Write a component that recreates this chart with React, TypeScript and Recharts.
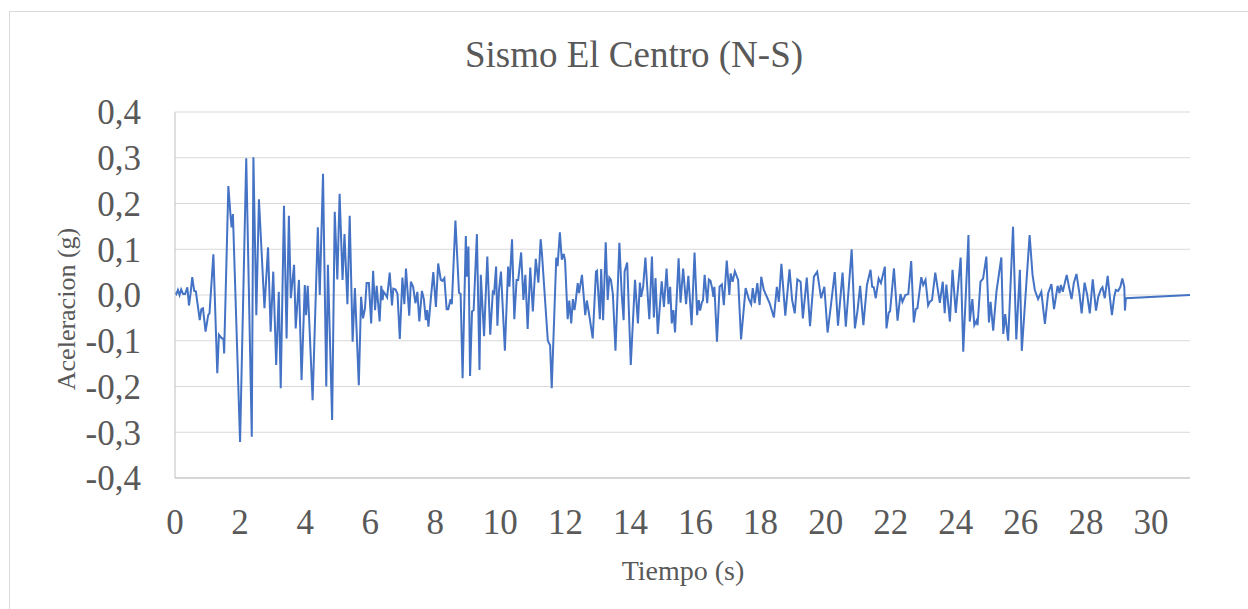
import React from 'react';
import { LineChart, Line, XAxis, YAxis, CartesianGrid } from 'recharts';

// El Centro N-S record (time in s, acceleration in g)
const TIME_S = [
    0, 0.04, 0.09, 0.14, 0.19, 0.25, 0.31, 0.38, 0.43, 0.48, 0.53, 0.59, 0.64, 0.72, 0.76, 0.81, 0.86, 0.94,
    1.02, 1.06, 1.18, 1.3, 1.35, 1.44, 1.49, 1.51, 1.64, 1.71, 1.74, 1.78, 2.0, 2.19, 2.36, 2.41, 2.5, 2.58,
    2.75, 2.86, 2.94, 3.02, 3.11, 3.19, 3.25, 3.35, 3.43, 3.5, 3.56,
    3.66, 3.71, 3.81, 3.89, 3.99, 4.03, 4.08, 4.23, 4.39, 4.45, 4.55, 4.65, 4.7, 4.83, 4.91, 4.99, 5.06, 5.15,
    5.21, 5.3, 5.37, 5.46, 5.53, 5.65, 5.72, 5.78, 5.84, 5.89, 5.96, 6.03, 6.09, 6.15, 6.2, 6.29, 6.34, 6.38,
    6.41, 6.48, 6.52, 6.6, 6.67, 6.71, 6.78, 6.84, 6.91, 6.99, 7.05, 7.1, 7.2, 7.25, 7.32, 7.39, 7.45,
    7.51, 7.59, 7.65, 7.71, 7.75, 7.79, 7.86, 7.94, 8.02, 8.09, 8.17, 8.22, 8.28, 8.35, 8.4, 8.47, 8.51, 8.62,
    8.73, 8.78, 8.84, 8.94, 8.97, 9.02, 9.07, 9.13, 9.18, 9.28, 9.36, 9.4, 9.5, 9.6, 9.69, 9.77, 9.81, 9.87,
    9.91, 9.96, 10.02, 10.14, 10.24, 10.28, 10.36, 10.43, 10.5, 10.55, 10.64, 10.71, 10.77, 10.84, 10.92, 11.0,
    11.09, 11.17, 11.24, 11.28, 11.46, 11.53, 11.58,
    11.72, 11.76, 11.83, 11.89, 11.95, 11.99, 12.07, 12.12, 12.18, 12.23, 12.28, 12.31, 12.38, 12.42, 12.51,
    12.61, 12.66, 12.74, 12.84, 12.94, 12.97, 13.06, 13.1, 13.16, 13.24, 13.3, 13.35, 13.4, 13.46, 13.54, 13.66,
    13.73, 13.79, 13.82, 13.9, 14.01, 14.14, 14.23, 14.29, 14.33, 14.39, 14.46, 14.54, 14.58, 14.66, 14.72,
    14.77, 14.84, 14.96, 15.03, 15.11, 15.17, 15.22,
    15.27, 15.32, 15.37, 15.48, 15.54, 15.62, 15.71, 15.78, 15.88, 15.97, 16.05, 16.1, 16.14, 16.2, 16.23,
    16.28, 16.36, 16.41, 16.46, 16.51, 16.55, 16.58, 16.66, 16.74, 16.81, 16.87, 16.96, 17.04, 17.08, 17.14,
    17.21, 17.31, 17.4, 17.54, 17.64, 17.71, 17.76, 17.82, 17.9, 17.97, 18.02, 18.1, 18.28, 18.41, 18.5, 18.56,
    18.64, 18.76, 18.89, 18.97,
    19.05, 19.13, 19.23, 19.3, 19.42, 19.52, 19.64, 19.74, 19.86, 19.96, 20.06, 20.17, 20.28, 20.38, 20.52,
    20.62, 20.8, 20.9, 20.98, 21.06, 21.16, 21.27, 21.38, 21.43, 21.48, 21.54, 21.63, 21.7, 21.82, 21.87, 21.94,
    21.98, 22.1, 22.21, 22.3, 22.36, 22.45, 22.54, 22.63, 22.71, 22.77, 22.82,
    22.94, 23.0, 23.07, 23.15, 23.2, 23.27, 23.37, 23.51, 23.6, 23.66, 23.71, 23.82, 23.9, 24.0, 24.15, 24.23,
    24.39, 24.43, 24.51, 24.57, 24.64, 24.67, 24.76, 24.84, 24.94, 25.02, 25.07, 25.15, 25.25, 25.4, 25.46,
    25.52, 25.61, 25.76, 25.86, 25.97, 26.03, 26.27, 26.36, 26.43, 26.53, 26.63, 26.74,
    26.84, 26.94, 27.02, 27.13, 27.19, 27.23, 27.29, 27.35, 27.41, 27.48, 27.56, 27.63, 27.71, 27.8, 27.87,
    27.96, 28.04, 28.12, 28.21, 28.31, 28.38, 28.46, 28.51, 28.58, 28.67, 28.74, 28.8, 28.87, 28.92, 28.99,
    29.06, 29.12, 29.18, 29.2, 29.23, 31.2,
];

const ACCEL_G = [
    0.005, 0.002, 0.011, 0, 0.012, 0.002, 0.002, 0.017, -0.023, 0.004, 0.039, 0.009, 0.008, -0.033, -0.055,
    -0.031, -0.029, -0.08, -0.044, -0.04, 0.089, -0.171, -0.087, -0.095, -0.095, -0.128, 0.238, 0.171, 0.148,
    0.177, -0.321, 0.299, -0.31, 0.301, -0.044, 0.209, -0.029, 0.104, -0.08, 0.051, -0.153, 0.007, -0.204,
    0.195, -0.095, 0.173, -0.007,
    0.066, -0.073, 0.033, -0.186, 0.022, -0.044, 0.02, -0.23, 0.148, 0, 0.265, -0.2, 0.066, -0.273, 0.182,
    0.034, 0.221, 0.033, 0.133, -0.02, 0.173, -0.102, 0.015, -0.197, -0.004, -0.051, -0.029, 0.026, 0.026,
    -0.062, 0.053, -0.033, 0.02, -0.058, 0.02, -0.011, 0.007, 0, -0.005, 0.049, -0.023, 0.014, 0.012, 0.002,
    -0.096, 0.038, -0.02, 0.058, -0.045, 0.029, 0.018, -0.018, 0.007,
    -0.058, 0.009, -0.009, -0.055, -0.033, -0.069, -0.011, 0.05, -0.026, 0.069, 0.033, 0.031, 0.037, -0.031,
    -0.031, -0.009, -0.02, 0.163, 0.005, 0.002, -0.182, 0.129, 0.04, 0.106, -0.177, -0.036, -0.033, 0.133,
    -0.164, 0.044, -0.09, 0.084, -0.087, 0.007, 0.004, 0.062, -0.067, 0.011, 0.051, -0.122, 0.062, 0.018,
    0.122, -0.053, 0.033, 0.033, 0.093, -0.011, 0.044, -0.074, 0.06, -0.036, 0.079, 0.027, 0.122, 0.09, -0.1,
    -0.11, -0.204,
    0.082, 0.063, 0.137, 0.077, 0.09, 0.075, -0.053, -0.012, -0.062, -0.009, -0.033, -0.018, 0.026, 0.004,
    0.044, -0.044, -0.012, -0.047, -0.095, 0.051, 0.053, -0.053, 0.057, -0.055, 0.115, -0.011, 0.038, 0.033,
    0.002, -0.122, 0.114, 0.004, -0.055, 0.051, 0.071, -0.153, 0.033, -0.062, 0.027, -0.004, 0.018, 0.082,
    -0.011, -0.053, 0.084, -0.049, 0.037, -0.085, 0.03, -0.026, 0.058, -0.02, 0.018,
    -0.062, -0.033, -0.082, 0.08, -0.017, 0.058, -0.02, 0.042, -0.066, 0.093, -0.044, -0.011, -0.034, -0.015,
    -0.012, 0.044, -0.018, 0.034, 0.031, 0.015, -0.004, 0.018, -0.102, 0.018, 0.023, -0.022, 0.075, 0, 0.047,
    0.029, 0.052, 0.033, -0.097, 0.015, -0.009, -0.02, 0.015, -0.018, 0.026, -0.022, 0.04, 0.011, -0.018,
    -0.049, 0.018, -0.015, 0.068, -0.045, 0.056, -0.011,
    -0.04, 0.034, 0.029, -0.051, 0.038, -0.068, 0.04, 0.051, -0.007, 0.018, -0.082, -0.018, 0.05, -0.067,
    0.049, -0.069, 0.1, -0.073, -0.034, 0.02, -0.066, 0.022, 0.055, 0.018, 0.017, -0.007, 0.036, 0.026, 0.062,
    -0.073, -0.038, -0.036, 0.058, -0.056, 0.002, -0.015, 0, 0.002, 0.074, -0.06, -0.031, -0.029,
    0.039, 0.022, 0.033, -0.023, -0.015, -0.011, 0.049, -0.017, 0.029, -0.04, 0.023, -0.058, 0.055, -0.039,
    0.082, -0.124, 0.131, -0.058, -0.009, -0.066, -0.056, -0.066, 0.029, 0.036, 0.084, -0.06, -0.015, -0.078,
    0.007, 0.082, -0.085, -0.042, -0.1, 0.149, -0.097, 0.055, -0.122, 0.131, 0.044, 0.011, -0.009, 0.007,
    -0.063,
    0.004, 0.024, -0.031, 0.02, 0.004, 0.022, 0.007, 0.026, 0.044, 0.018, -0.009, 0.027, 0.046, 0.004, -0.04,
    0.027, 0, -0.04, 0.034, -0.034, -0.004, 0.012, 0.017, -0.007, 0.042, -0.007, -0.044, -0.004, 0.011, 0.009,
    0.018, 0.036, 0.018, -0.034, -0.007, 0,
];

const X_TICKS = [0, 2, 4, 6, 8, 10, 12, 14, 16, 18, 20, 22, 24, 26, 28, 30];
const Y_TICKS = [-0.4, -0.3, -0.2, -0.1, 0, 0.1, 0.2, 0.3, 0.4];

const data = TIME_S.map((t, i) => ({ t, a: ACCEL_G[i] }));

const FONT = '"Liberation Serif", "Times New Roman", serif';
const TEXT_COLOR = '#595959';

const formatY = (v: number) => v.toFixed(1).replace('.', ',');

export default function App() {
    return (
        <div style={{ position: 'absolute', left: 0, top: 0, width: 1248, height: 609, background: '#fff', overflow: 'hidden' }}>
            {/* chart frame */}
            <div style={{ position: 'absolute', left: 9, top: 11, width: 1260, height: 620, border: '1px solid #d9d9d9', boxSizing: 'border-box' }} />

            <div style={{ position: 'absolute', left: 0, top: 0 }}>
                <LineChart width={1248} height={609} data={data} margin={{ top: 112, right: 58, bottom: 0, left: 0 }}>
                    <CartesianGrid vertical={false} stroke="#d9d9d9" strokeWidth={1} />
                    <XAxis
                        dataKey="t"
                        type="number"
                        domain={[0, 31.2]}
                        ticks={X_TICKS}
                        allowDataOverflow
                        height={131}
                        tickLine={false}
                        tickSize={0}
                        tickMargin={31}
                        axisLine={{ stroke: '#bfbfbf', strokeWidth: 1 }}
                        tick={{ fontSize: 35, fill: TEXT_COLOR, fontFamily: FONT }}
                    />
                    <YAxis
                        type="number"
                        domain={[-0.4, 0.4]}
                        ticks={Y_TICKS}
                        width={175}
                        tickLine={false}
                        tickSize={0}
                        tickMargin={34}
                        tickFormatter={formatY}
                        axisLine={{ stroke: '#bfbfbf', strokeWidth: 1 }}
                        tick={{ fontSize: 35, fill: TEXT_COLOR, fontFamily: FONT }}
                    />
                    <Line
                        type="linear"
                        dataKey="a"
                        stroke="#4472C4"
                        strokeWidth={2}
                        dot={false}
                        isAnimationActive={false}
                    />
                </LineChart>
            </div>

            {/* titles */}
            <svg width={1248} height={609} style={{ position: 'absolute', left: 0, top: 0, pointerEvents: 'none' }}>
                <text x={634} y={67} textAnchor="middle" fontSize={37} fill={TEXT_COLOR} fontFamily={FONT}>
                    Sismo El Centro (N-S)
                </text>
                <text x={683} y={580} textAnchor="middle" fontSize={28} fill={TEXT_COLOR} fontFamily={FONT}>
                    Tiempo (s)
                </text>
                <text transform="translate(75,309) rotate(-90)" textAnchor="middle" fontSize={26} fill={TEXT_COLOR} fontFamily={FONT}>
                    Aceleracion (g)
                </text>
            </svg>
        </div>
    );
}
